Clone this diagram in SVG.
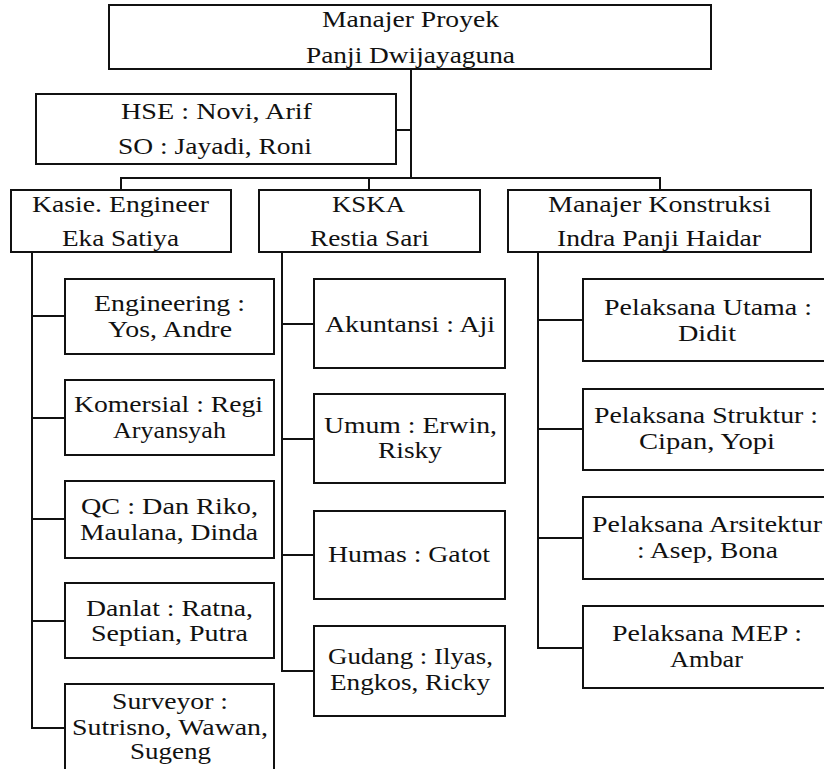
<svg xmlns="http://www.w3.org/2000/svg" width="824" height="769" viewBox="0 0 824 769">
<style>
rect.box{fill:#fff;stroke:#111;stroke-width:2}
.conn path{fill:none;stroke:#111;stroke-width:2;stroke-linejoin:miter}
.lbl text{font-family:"Liberation Serif","Times New Roman",serif;font-size:22.5px;fill:#111;text-anchor:middle}
</style>
<rect width="824" height="769" fill="#fff"/>
<g class="conn" id="connectors">
<path d="M411,69 V178"/>
<path d="M396,130 H411"/>
<path d="M121,190 V178 H660 V190"/>
<path d="M369,178 V190"/>
<path d="M32,252 V728 H65"/>
<path d="M32,316 H65 M32,418 H65 M32,519 H65 M32,621 H65"/>
<path d="M282,252 V671 H314"/>
<path d="M282,324 H314 M282,439 H314 M282,555 H314"/>
<path d="M538,252 V648 H583"/>
<path d="M538,320 H583 M538,429 H583 M538,538 H583"/>
</g>
<g class="lbl">
<g id="manajer-proyek">
<rect class="box" x="109" y="5" width="602" height="64"/>
<text x="410.5" y="27" textLength="177" lengthAdjust="spacingAndGlyphs">Manajer Proyek</text>
<text x="410.5" y="63" textLength="209" lengthAdjust="spacingAndGlyphs">Panji Dwijayaguna</text>
</g>
<g id="hse">
<rect class="box" x="36" y="94" width="360" height="70"/>
<text x="216.5" y="119" textLength="191" lengthAdjust="spacingAndGlyphs">HSE : Novi, Arif</text>
<text x="215" y="154" textLength="194" lengthAdjust="spacingAndGlyphs">SO : Jayadi, Roni</text>
</g>
<g id="kasie">
<rect class="box" x="11" y="190" width="220" height="62"/>
<text x="120.5" y="212" textLength="177" lengthAdjust="spacingAndGlyphs">Kasie. Engineer</text>
<text x="120.5" y="246" textLength="117" lengthAdjust="spacingAndGlyphs">Eka Satiya</text>
</g>
<g id="kska">
<rect class="box" x="259" y="190" width="221" height="62"/>
<text x="368.5" y="212" textLength="73" lengthAdjust="spacingAndGlyphs">KSKA</text>
<text x="369.5" y="246" textLength="119" lengthAdjust="spacingAndGlyphs">Restia Sari</text>
</g>
<g id="manajer-konstruksi">
<rect class="box" x="508" y="190" width="303" height="62"/>
<text x="659.5" y="212" textLength="223" lengthAdjust="spacingAndGlyphs">Manajer Konstruksi</text>
<text x="659" y="246" textLength="204" lengthAdjust="spacingAndGlyphs">Indra Panji Haidar</text>
</g>
<g id="engineering">
<rect class="box" x="65" y="279" width="209" height="75"/>
<text x="169.5" y="311" textLength="151" lengthAdjust="spacingAndGlyphs">Engineering :</text>
<text x="170" y="337" textLength="124" lengthAdjust="spacingAndGlyphs">Yos, Andre</text>
</g>
<g id="komersial">
<rect class="box" x="65" y="380" width="209" height="75"/>
<text x="168.5" y="412" textLength="189" lengthAdjust="spacingAndGlyphs">Komersial : Regi</text>
<text x="169.5" y="438" textLength="113" lengthAdjust="spacingAndGlyphs">Aryansyah</text>
</g>
<g id="qc">
<rect class="box" x="65" y="481" width="209" height="77"/>
<text x="169.5" y="514" textLength="177" lengthAdjust="spacingAndGlyphs">QC : Dan Riko,</text>
<text x="169" y="540" textLength="178" lengthAdjust="spacingAndGlyphs">Maulana, Dinda</text>
</g>
<g id="danlat">
<rect class="box" x="65" y="583" width="209" height="75"/>
<text x="169.5" y="616" textLength="167" lengthAdjust="spacingAndGlyphs">Danlat : Ratna,</text>
<text x="169.5" y="641" textLength="157" lengthAdjust="spacingAndGlyphs">Septian, Putra</text>
</g>
<g id="surveyor">
<rect class="box" x="65" y="684" width="209" height="100"/>
<text x="170" y="709" textLength="116" lengthAdjust="spacingAndGlyphs">Surveyor :</text>
<text x="170" y="735" textLength="196" lengthAdjust="spacingAndGlyphs">Sutrisno, Wawan,</text>
<text x="170.5" y="759" textLength="81" lengthAdjust="spacingAndGlyphs">Sugeng</text>
</g>
<g id="akuntansi">
<rect class="box" x="314" y="279" width="191" height="89"/>
<text x="410" y="332" textLength="170" lengthAdjust="spacingAndGlyphs">Akuntansi : Aji</text>
</g>
<g id="umum">
<rect class="box" x="314" y="394" width="191" height="89"/>
<text x="410.5" y="433" textLength="173" lengthAdjust="spacingAndGlyphs">Umum : Erwin,</text>
<text x="410" y="458" textLength="64" lengthAdjust="spacingAndGlyphs">Risky</text>
</g>
<g id="humas">
<rect class="box" x="314" y="511" width="191" height="88"/>
<text x="409" y="562" textLength="162" lengthAdjust="spacingAndGlyphs">Humas : Gatot</text>
</g>
<g id="gudang">
<rect class="box" x="314" y="626" width="191" height="90"/>
<text x="410.5" y="664" textLength="165" lengthAdjust="spacingAndGlyphs">Gudang : Ilyas,</text>
<text x="410" y="690" textLength="160" lengthAdjust="spacingAndGlyphs">Engkos, Ricky</text>
</g>
<g id="pelaksana-utama">
<rect class="box" x="583" y="279" width="260" height="82"/>
<text x="708" y="315" textLength="208" lengthAdjust="spacingAndGlyphs">Pelaksana Utama :</text>
<text x="707" y="341" textLength="58" lengthAdjust="spacingAndGlyphs">Didit</text>
</g>
<g id="pelaksana-struktur">
<rect class="box" x="583" y="389" width="260" height="81"/>
<text x="706" y="423" textLength="224" lengthAdjust="spacingAndGlyphs">Pelaksana Struktur :</text>
<text x="707" y="449" textLength="136" lengthAdjust="spacingAndGlyphs">Cipan, Yopi</text>
</g>
<g id="pelaksana-arsitektur">
<rect class="box" x="583" y="497" width="260" height="82"/>
<text x="707" y="532" textLength="230" lengthAdjust="spacingAndGlyphs">Pelaksana Arsitektur</text>
<text x="707.5" y="558" textLength="141" lengthAdjust="spacingAndGlyphs">: Asep, Bona</text>
</g>
<g id="pelaksana-mep">
<rect class="box" x="583" y="606" width="260" height="82"/>
<text x="707" y="641" textLength="190" lengthAdjust="spacingAndGlyphs">Pelaksana MEP :</text>
<text x="706.5" y="667" textLength="73" lengthAdjust="spacingAndGlyphs">Ambar</text>
</g>
</g>
</svg>
